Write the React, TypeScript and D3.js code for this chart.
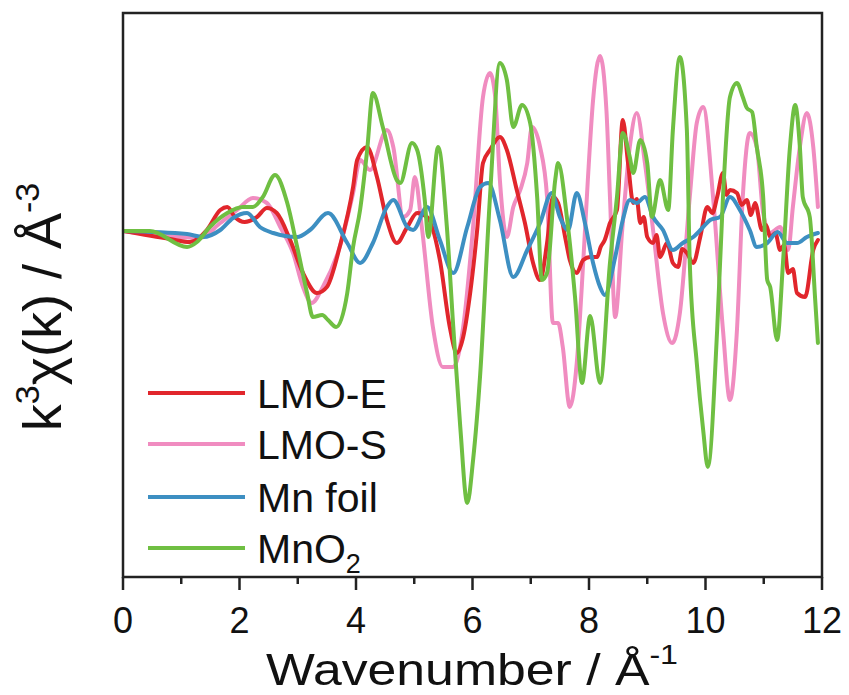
import React from "react";
import * as d3 from "d3";

// k (Å^-1) and k^3 chi(k) (arbitrary units)
const lmoE: [number, number][] = [
  [0, 0], [0.81, -0.8], [1.15, -1.1], [1.44, 0.1], [1.67, 2.1], [1.79, 2.4], [1.92, 1.4], [2.09, 0.9],
  [2.3, 1.4], [2.47, 2.3], [2.64, 1.8], [2.87, -0.9], [3.09, -4.2], [3.33, -6.2], [3.5, -5.6], [3.72, -1.6],
  [3.95, 4.4], [4.02, 7.1], [4.19, 8.4], [4.36, 5.4], [4.53, 1.1], [4.7, -1.2], [4.88, 0.4], [5.05, 1.8],
  [5.22, 1.4], [5.44, -2.9], [5.61, -9.6], [5.73, -12.2], [5.84, -10.6], [5.96, -6.2], [6.08, 0.1],
  [6.18, 6.8], [6.3, 8.1], [6.47, 9.4], [6.59, 8.1], [6.76, 4.1], [6.9, 0.8], [7.04, -3.2], [7.16, -4.9],
  [7.28, -1.2], [7.38, 3.4], [7.47, 2.8], [7.59, -0.6], [7.67, -2.9], [7.79, -4.2], [7.9, -2.9],
  [8.02, -2.6], [8.14, -2.6], [8.2, -1.6], [8.27, -0.9], [8.36, 0.8], [8.48, 2.1], [8.58, 11.1],
  [8.67, 6.8], [8.76, 2.8], [8.82, 3.2], [8.88, 0.8], [8.94, 1.4], [9.0, -0.6], [9.1, -1.2], [9.16, -0.4],
  [9.22, -2.6], [9.34, -1.2], [9.44, -3.2], [9.53, -3.6], [9.6, -1.8], [9.68, -2.2], [9.79, -3.2],
  [9.91, -0.6], [10.03, 2.4], [10.12, 1.8], [10.2, 3.4], [10.3, 5.8], [10.36, 3.6], [10.42, 4.1],
  [10.54, 3.8], [10.62, 2.6], [10.71, 3.1], [10.78, 1.6], [10.85, 2.8], [10.97, 0.1], [11.04, 0.6],
  [11.11, -0.6], [11.2, -0.2], [11.28, -1.9], [11.35, -1.4], [11.42, -4.2], [11.5, -3.8],
  [11.57, -6.2], [11.71, -6.6], [11.85, -1.9], [11.93, -0.9]
];

const lmoS: [number, number][] = [
  [0, 0], [0.98, -0.6], [1.32, -0.7], [1.67, 0.8], [1.96, 2.1], [2.23, 3.3], [2.47, 2.8], [2.7, 0.4],
  [2.92, -2.2], [3.09, -5.6], [3.24, -7.2], [3.43, -5.6], [3.72, -1.6], [3.95, 3.8], [4.07, 7.1],
  [4.24, 6.1], [4.53, 10.1], [4.64, 8.4], [4.81, 1.4], [4.93, 2.1], [5.01, 5.4], [5.13, 0.4],
  [5.32, -9.6], [5.49, -13.6], [5.67, -13.6], [5.84, -9.6], [6.01, 0.4], [6.18, 13.4], [6.3, 15.8],
  [6.39, 13.4], [6.47, 5.1], [6.59, -0.6], [6.7, 2.4], [6.82, 4.1], [6.94, 6.8], [7.02, 10.4],
  [7.16, 8.4], [7.28, 3.4], [7.38, -9.2], [7.47, -9.2], [7.55, -11.6], [7.67, -17.6], [7.79, -13.2],
  [7.9, -3.2], [7.98, 5.1], [8.07, 13.1], [8.19, 17.5], [8.3, 12.0], [8.36, 3.4], [8.45, -8.6],
  [8.57, 0.1], [8.7, 8.4], [8.82, 11.8], [8.96, 6.8], [9.1, 0.1], [9.27, -8.2], [9.43, -11.2],
  [9.56, -8.2], [9.73, 3.4], [9.85, 10.8], [9.96, 12.4], [10.13, 3.4], [10.3, -9.9], [10.42, -16.9],
  [10.54, -9.9], [10.64, 3.4], [10.76, 9.8], [10.88, 8.4], [10.99, 1.8], [11.11, -0.2], [11.28, 0.4],
  [11.42, -1.9], [11.5, 2.4], [11.62, 8.4], [11.74, 11.8], [11.85, 8.4], [11.93, 2.4]
];

const mnFoil: [number, number][] = [
  [0, 0], [1.1, -0.3], [1.37, -0.6], [1.67, 0.1], [1.89, 1.3], [2.13, 1.8], [2.35, 0.4], [2.58, -0.2],
  [2.99, -0.6], [3.21, 0.1], [3.52, 1.8], [3.85, -1.2], [4.07, -3.2], [4.29, -1.2], [4.53, 2.4],
  [4.64, 3.1], [4.88, 0.4], [4.98, 0.1], [5.22, 2.4], [5.44, -0.9], [5.67, -4.2], [5.91, 0.4],
  [6.13, 4.4], [6.27, 4.8], [6.47, 1.1], [6.7, -4.6], [6.94, -1.9], [7.16, 0.8], [7.36, 3.8],
  [7.5, 1.4], [7.64, 0.1], [7.79, 3.8], [7.93, 0.8], [8.07, -3.2], [8.19, -5.6], [8.27, -6.4],
  [8.45, -2.6], [8.58, 1.1], [8.7, 3.1], [8.82, 2.8], [8.96, 3.4], [9.1, 1.4], [9.27, 0.1],
  [9.44, -1.9], [9.61, -1.2], [9.79, -0.6], [9.96, 0.4], [10.08, 1.1], [10.25, 1.4], [10.42, 3.4],
  [10.59, 2.1], [10.76, 0.1], [10.88, -1.6], [11.06, -1.2], [11.24, -0.1], [11.4, -1.2], [11.57, -1.2],
  [11.74, -0.6], [11.93, -0.2]
];

const mnO2: [number, number][] = [
  [0, 0], [0.46, 0], [1.1, -1.6], [1.27, -1.1], [1.49, 0.4], [1.79, 1.8], [2.06, 2.4], [2.23, 2.4],
  [2.4, 3.4], [2.61, 5.6], [2.82, 2.8], [2.99, -1.6], [3.16, -6.2], [3.26, -8.6], [3.42, -8.4],
  [3.52, -8.9], [3.66, -9.6], [3.85, -6.2], [3.95, -1.6], [4.07, 2.1], [4.19, 8.0], [4.29, 13.8],
  [4.46, 10.4], [4.7, 5.1], [4.76, 4.8], [4.96, 8.8], [5.05, 8.1], [5.18, 3.1], [5.24, -0.6],
  [5.41, 8.4], [5.56, 0.4], [5.67, -9.6], [5.79, -19.6], [5.91, -27.2], [6.01, -22.9], [6.13, -14.5],
  [6.3, 3.4], [6.47, 16.8], [6.59, 15.1], [6.7, 10.4], [6.85, 12.6], [6.99, 10.8], [7.11, 3.4],
  [7.19, -4.9], [7.28, -4.2], [7.42, 5.1], [7.47, 6.8], [7.62, 1.4], [7.76, -6.6], [7.88, -15.2],
  [8.02, -8.5], [8.19, -15.2], [8.36, -3.2], [8.48, 3.4], [8.58, 9.8], [8.7, 7.4], [8.76, 5.8],
  [8.88, 9.1], [9.0, 6.8], [9.08, 1.4], [9.22, 5.1], [9.36, 2.1], [9.44, 10.1], [9.56, 17.4],
  [9.68, 10.1], [9.73, -3.2], [9.85, -13.2], [9.96, -19.9], [10.04, -23.6], [10.2, -9.9], [10.3, 3.4],
  [10.42, 13.4], [10.54, 14.8], [10.64, 13.4], [10.71, 12.3], [10.8, 11.9], [10.88, 8.4], [10.99, 3.4],
  [11.06, -4.9], [11.11, -5.6], [11.23, -10.9], [11.33, -3.2], [11.45, 8.4], [11.54, 12.6],
  [11.62, 8.4], [11.67, 3.4], [11.79, 1.4], [11.88, -6.6], [11.93, -11.2]
];

const seriesNames = ["LMO-E", "LMO-S", "Mn foil", "MnO2"];
const seriesColors = ["#e1262c", "#f08cc0", "#3d8fc2", "#6fbf42"];
const xTicks = [0, 2, 4, 6, 8, 10, 12];
const xMinorTicks = [1, 3, 5, 7, 9, 11];

const W = 849;
const H = 695;
const left = 123;
const right = 822;
const top = 13;
const bottom = 577;
const FONT = "'Liberation Sans', Arial, Helvetica, sans-serif";

export default function App() {
  const x = d3.scaleLinear().domain([0, 12]).range([left, right]);
  const y = d3.scaleLinear().domain([-34.6, 21.8]).range([bottom, top]);
  const line = d3
    .line<[number, number]>()
    .x((d) => x(d[0]))
    .y((d) => y(d[1]))
    .curve(d3.curveMonotoneX);

  const all = [lmoE, lmoS, mnFoil, mnO2];
  const drawOrder = [1, 0, 2, 3];
  const legendY = [393, 444, 497, 548];

  return (
    <svg
      width={W}
      height={H}
      style={{ position: "absolute", left: 0, top: 0, background: "#fff" }}
      fontFamily={FONT}
    >
      <defs>
        <clipPath id="plotclip">
          <rect x={left} y={top} width={right - left} height={bottom - top} />
        </clipPath>
      </defs>
      <g clipPath="url(#plotclip)">
        {drawOrder.map((i) => (
          <path
            key={i}
            d={line(all[i]) || ""}
            fill="none"
            stroke={seriesColors[i]}
            strokeWidth={4}
            strokeLinejoin="round"
            strokeLinecap="round"
          />
        ))}
      </g>
      <rect
        x={left}
        y={top}
        width={right - left}
        height={bottom - top}
        fill="none"
        stroke="#222"
        strokeWidth={2.5}
      />
      {xTicks.map((t) => (
        <g key={t}>
          <line x1={x(t)} x2={x(t)} y1={bottom} y2={bottom + 13} stroke="#222" strokeWidth={2.5} />
          <text x={x(t)} y={633} fontSize={36} textAnchor="middle" fill="#111">
            {t}
          </text>
        </g>
      ))}
      {xMinorTicks.map((t) => (
        <line key={t} x1={x(t)} x2={x(t)} y1={bottom} y2={bottom + 7} stroke="#222" strokeWidth={2.5} />
      ))}
      <g transform="translate(472,685) scale(1.15,1)">
        <text x={0} y={0} fontSize={45} textAnchor="middle" fill="#111">
          Wavenumber / Å
          <tspan fontSize={28} dy={-21}>-1</tspan>
        </text>
      </g>
      <g transform="translate(61,307) rotate(-90)">
        <text x={0} y={0} fontSize={54} textAnchor="middle" fill="#111">
          k<tspan fontSize={34} dy={-22}>3</tspan>
          <tspan dy={22}>χ(k) / Å</tspan>
          <tspan fontSize={34} dy={-22}>-3</tspan>
        </text>
      </g>
      {seriesNames.map((n, i) => (
        <g key={n}>
          <line
            x1={148}
            x2={245}
            y1={legendY[i]}
            y2={legendY[i]}
            stroke={seriesColors[i]}
            strokeWidth={4}
          />
          <text x={257} y={legendY[i] + 15} fontSize={41} fill="#111">
            {n === "MnO2" ? (
              <>
                MnO<tspan fontSize={27} dy={10}>2</tspan>
              </>
            ) : (
              n
            )}
          </text>
        </g>
      ))}
    </svg>
  );
}
